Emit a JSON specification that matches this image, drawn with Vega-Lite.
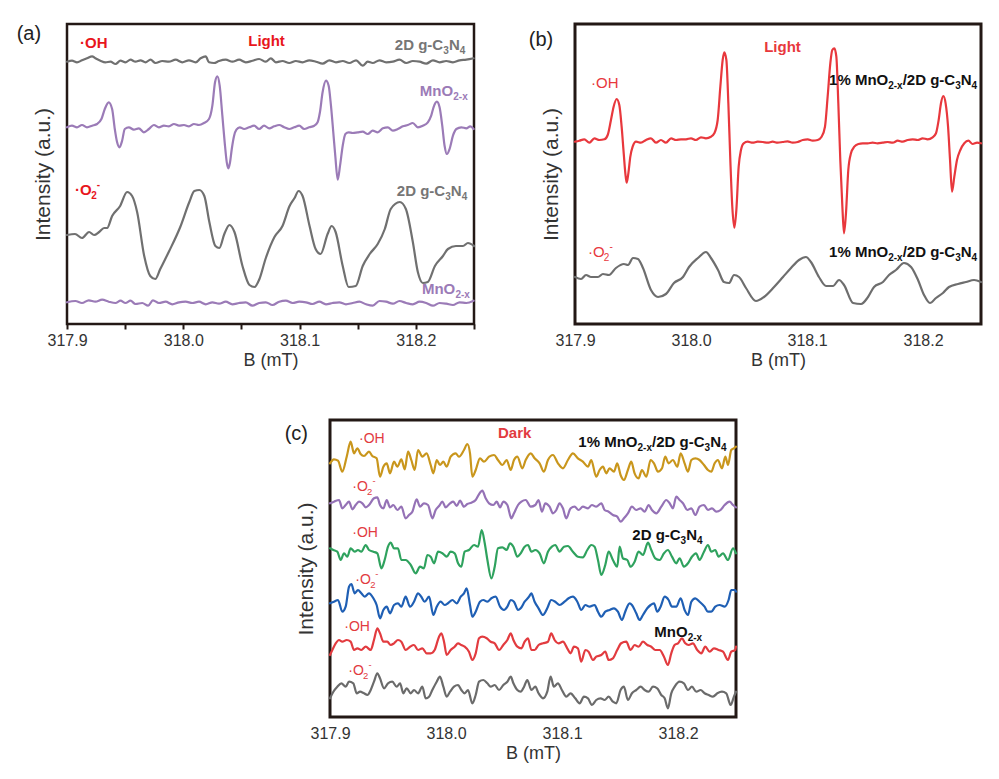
{
"$schema": "https://vega.github.io/schema/vega-lite/v6.json",
"background": "#ffffff",
"padding": {"left": 15, "top": 22, "right": 0, "bottom": 0},
"config": {
 "font": "Liberation Sans",
 "view": {"stroke": "#231815", "strokeWidth": 3},
 "axis": {"grid": false, "domain": false, "labelFont": "Liberation Sans", "titleFont": "Liberation Sans", "labelColor": "#333333", "titleColor": "#333333", "titleFontWeight": "normal", "labelFontSize": 16, "titleFontSize": 18},
 "text": {"font": "Liberation Sans"},
 "line": {"interpolate": "monotone", "strokeWidth": 2, "strokeCap": "round", "strokeJoin": "round"}
},
"spacing": 47,
"vconcat": [
{"spacing": 50, "hconcat": [
{
 "width": 407, "height": 300,
 "view": {"stroke": "#231815", "strokeWidth": 2.5},
 "encoding": {
  "x": {"field": "x", "type": "quantitative", "scale": {"domain": [317.9, 318.25], "nice": false, "zero": false},
   "axis": {"values": [317.9, 317.95, 318.0, 318.05, 318.1, 318.15, 318.2, 318.25], "labelExpr": "round(datum.value*20) % 2 == 0 ? format(datum.value, '.1f') : ''", "tickSize": 5, "tickWidth": 2, "tickColor": "#231815", "labelPadding": 3, "labelFlush": false, "labelOverlap": false, "title": "B (mT)", "titlePadding": 3}},
  "y": {"field": "y", "type": "quantitative", "scale": {"domain": [0, 300], "nice": false, "zero": false},
   "axis": {"title": "Intensity (a.u.)", "labels": false, "ticks": false, "titlePadding": 14, "titleFontSize": 21}}
 },
 "layer": [
  {"data": {"values": [
{"x":317.9,"y":262.3},{"x":317.9043,"y":263.3},{"x":317.9086,"y":261.7},{"x":317.9129,"y":263.7},{"x":317.9172,"y":265.7},{"x":317.9216,"y":267.7},{"x":317.9244,"y":265.7},{"x":317.9287,"y":263.3},{"x":317.933,"y":261.7},{"x":317.9374,"y":262.3},{"x":317.9417,"y":260},{"x":317.946,"y":263.3},{"x":317.9503,"y":261.7},{"x":317.9546,"y":264.3},{"x":317.9589,"y":262.3},{"x":317.9632,"y":263.7},{"x":317.9675,"y":261.7},{"x":317.9718,"y":264.3},{"x":317.9761,"y":261},{"x":317.9819,"y":263},{"x":317.9876,"y":262.3},{"x":317.9934,"y":264.3},{"x":317.9991,"y":261.7},{"x":318.0049,"y":263.7},{"x":318.0106,"y":261.7},{"x":318.0149,"y":265.7},{"x":318.0193,"y":267.7},{"x":318.0221,"y":261.7},{"x":318.0264,"y":261},{"x":318.0307,"y":263},{"x":318.0365,"y":264.3},{"x":318.0422,"y":262.3},{"x":318.048,"y":264.3},{"x":318.0537,"y":261.7},{"x":318.0595,"y":263.3},{"x":318.0652,"y":265},{"x":318.071,"y":262.3},{"x":318.0753,"y":265.7},{"x":318.0796,"y":261.7},{"x":318.0853,"y":263},{"x":318.0911,"y":261},{"x":318.0968,"y":263},{"x":318.1026,"y":261.7},{"x":318.1083,"y":263.7},{"x":318.1141,"y":262.3},{"x":318.1198,"y":260.3},{"x":318.1256,"y":263.7},{"x":318.1313,"y":261.7},{"x":318.1371,"y":263},{"x":318.1428,"y":261},{"x":318.1486,"y":263.7},{"x":318.1543,"y":258.3},{"x":318.1586,"y":262.3},{"x":318.1629,"y":261},{"x":318.1687,"y":263.7},{"x":318.1744,"y":261.7},{"x":318.1802,"y":262.3},{"x":318.1859,"y":264.3},{"x":318.1917,"y":261},{"x":318.1974,"y":263},{"x":318.2032,"y":262.3},{"x":318.2089,"y":260.3},{"x":318.2147,"y":263.7},{"x":318.2204,"y":261.7},{"x":318.2261,"y":263},{"x":318.2319,"y":261.7},{"x":318.2376,"y":263.7},{"x":318.2434,"y":264.3},{"x":318.2497,"y":265.7}
  ]}, "mark": {"type": "line", "color": "#707070", "strokeWidth": 2.2}},
  {"data": {"values": [
{"x":317.9,"y":196.7},{"x":317.9043,"y":198.3},{"x":317.9086,"y":196.7},{"x":317.9129,"y":199},{"x":317.9172,"y":196.7},{"x":317.9216,"y":198.3},{"x":317.9259,"y":200},{"x":317.9296,"y":205},{"x":317.9325,"y":215},{"x":317.9359,"y":221.7},{"x":317.9388,"y":215},{"x":317.9411,"y":195},{"x":317.9431,"y":181.7},{"x":317.9451,"y":176.7},{"x":317.9474,"y":183.3},{"x":317.9497,"y":195},{"x":317.9532,"y":196.7},{"x":317.9575,"y":194.3},{"x":317.9618,"y":195.7},{"x":317.9661,"y":191.7},{"x":317.9704,"y":195},{"x":317.9747,"y":199},{"x":317.979,"y":196.7},{"x":317.9833,"y":198.3},{"x":317.9876,"y":197.7},{"x":317.992,"y":200},{"x":317.9963,"y":198.3},{"x":318.0006,"y":199},{"x":318.0049,"y":197.7},{"x":318.0092,"y":200},{"x":318.0135,"y":199},{"x":318.0178,"y":201},{"x":318.0221,"y":205},{"x":318.025,"y":218.3},{"x":318.0273,"y":241.7},{"x":318.0293,"y":247.7},{"x":318.0313,"y":238.3},{"x":318.0336,"y":208.3},{"x":318.0356,"y":181.7},{"x":318.0374,"y":161.7},{"x":318.0388,"y":155.7},{"x":318.0402,"y":161.7},{"x":318.0417,"y":175},{"x":318.0437,"y":188.3},{"x":318.0457,"y":194.3},{"x":318.0486,"y":196.7},{"x":318.0523,"y":195},{"x":318.0566,"y":196.7},{"x":318.0609,"y":198.3},{"x":318.0652,"y":195},{"x":318.0695,"y":198.3},{"x":318.0739,"y":195.7},{"x":318.0782,"y":197.7},{"x":318.0825,"y":199},{"x":318.0868,"y":196.7},{"x":318.0911,"y":195},{"x":318.0954,"y":196.7},{"x":318.0997,"y":198.3},{"x":318.104,"y":195},{"x":318.1083,"y":196.7},{"x":318.1126,"y":198.3},{"x":318.1155,"y":201.7},{"x":318.1175,"y":211.7},{"x":318.1198,"y":231.7},{"x":318.1227,"y":243.3},{"x":318.125,"y":238.3},{"x":318.127,"y":218.3},{"x":318.129,"y":191.7},{"x":318.1307,"y":168.3},{"x":318.1328,"y":144.3},{"x":318.1348,"y":158.3},{"x":318.1371,"y":178.3},{"x":318.1394,"y":190},{"x":318.1422,"y":191.7},{"x":318.1457,"y":191},{"x":318.15,"y":191.7},{"x":318.1543,"y":192.3},{"x":318.1586,"y":190},{"x":318.1629,"y":193.3},{"x":318.1672,"y":191.7},{"x":318.1716,"y":195.7},{"x":318.1759,"y":196.7},{"x":318.1802,"y":193.3},{"x":318.1845,"y":195},{"x":318.1888,"y":197.7},{"x":318.1931,"y":199},{"x":318.1974,"y":201},{"x":318.2017,"y":196.7},{"x":318.206,"y":198.3},{"x":318.2103,"y":201.7},{"x":318.2132,"y":208.3},{"x":318.2152,"y":216.7},{"x":318.2181,"y":222.3},{"x":318.2204,"y":216.7},{"x":318.2227,"y":198.3},{"x":318.2247,"y":178.3},{"x":318.2267,"y":170},{"x":318.229,"y":175},{"x":318.2319,"y":188.3},{"x":318.2348,"y":195},{"x":318.2391,"y":196.7},{"x":318.2434,"y":195.7},{"x":318.2468,"y":197.7},{"x":318.2497,"y":195}
  ]}, "mark": {"type": "line", "color": "#9b7bb7", "strokeWidth": 2.2}},
  {"data": {"values": [
{"x":317.9,"y":89},{"x":317.9069,"y":90},{"x":317.9129,"y":86},{"x":317.919,"y":92},{"x":317.9233,"y":89},{"x":317.9276,"y":92},{"x":317.9319,"y":96},{"x":317.9345,"y":96},{"x":317.9388,"y":108},{"x":317.9457,"y":118},{"x":317.9517,"y":132},{"x":317.956,"y":128},{"x":317.9603,"y":112},{"x":317.9664,"y":68},{"x":317.9716,"y":48},{"x":317.9759,"y":45},{"x":317.9802,"y":55},{"x":317.9879,"y":73},{"x":317.9974,"y":97},{"x":318.0052,"y":122},{"x":318.0095,"y":133},{"x":318.0138,"y":134},{"x":318.0181,"y":128},{"x":318.0224,"y":102},{"x":318.0276,"y":78},{"x":318.031,"y":76},{"x":318.0353,"y":90},{"x":318.0397,"y":99},{"x":318.044,"y":92},{"x":318.0509,"y":58},{"x":318.0569,"y":39},{"x":318.0612,"y":37},{"x":318.0655,"y":45},{"x":318.0707,"y":65},{"x":318.0784,"y":87},{"x":318.0853,"y":98},{"x":318.0914,"y":118},{"x":318.0957,"y":126},{"x":318.0991,"y":133},{"x":318.1026,"y":128},{"x":318.1086,"y":98},{"x":318.1138,"y":75},{"x":318.1181,"y":70},{"x":318.1241,"y":90},{"x":318.1276,"y":98},{"x":318.131,"y":92},{"x":318.1371,"y":58},{"x":318.1422,"y":37},{"x":318.1483,"y":38},{"x":318.1543,"y":58},{"x":318.1603,"y":70},{"x":318.1672,"y":80},{"x":318.1733,"y":95},{"x":318.1784,"y":115},{"x":318.1862,"y":122},{"x":318.1914,"y":115},{"x":318.1974,"y":82},{"x":318.2017,"y":52},{"x":318.206,"y":41},{"x":318.2103,"y":42},{"x":318.2164,"y":58},{"x":318.2233,"y":68},{"x":318.2276,"y":75},{"x":318.2345,"y":78},{"x":318.2405,"y":78},{"x":318.2448,"y":81},{"x":318.25,"y":78}
  ]}, "mark": {"type": "line", "color": "#707070", "strokeWidth": 2.2}},
  {"data": {"values": [
{"x":317.9,"y":21.7},{"x":317.9072,"y":23},{"x":317.9129,"y":21},{"x":317.9187,"y":23.7},{"x":317.9244,"y":22.3},{"x":317.9302,"y":24.3},{"x":317.9359,"y":22.3},{"x":317.9417,"y":21},{"x":317.946,"y":23.3},{"x":317.9503,"y":21},{"x":317.9546,"y":23.3},{"x":317.9589,"y":20},{"x":317.9647,"y":21},{"x":317.9698,"y":18.3},{"x":317.9739,"y":23.7},{"x":317.979,"y":21},{"x":317.9848,"y":22.3},{"x":317.9905,"y":19.7},{"x":317.9963,"y":21.7},{"x":318.002,"y":22.3},{"x":318.0078,"y":21},{"x":318.0135,"y":22.3},{"x":318.0193,"y":19.7},{"x":318.025,"y":21.7},{"x":318.0307,"y":20.3},{"x":318.0365,"y":22.3},{"x":318.0422,"y":19.7},{"x":318.048,"y":21},{"x":318.0537,"y":21.7},{"x":318.0595,"y":18.3},{"x":318.0652,"y":21},{"x":318.071,"y":21.7},{"x":318.0767,"y":19},{"x":318.0825,"y":22.3},{"x":318.0882,"y":23.3},{"x":318.094,"y":21},{"x":318.0997,"y":22.3},{"x":318.1055,"y":21.7},{"x":318.1112,"y":20},{"x":318.117,"y":22.3},{"x":318.1227,"y":19.7},{"x":318.1284,"y":21},{"x":318.1342,"y":21.7},{"x":318.1399,"y":19.7},{"x":318.1457,"y":21},{"x":318.1514,"y":22.3},{"x":318.1572,"y":19.7},{"x":318.1629,"y":18.3},{"x":318.1687,"y":23},{"x":318.1744,"y":22.3},{"x":318.1802,"y":20.3},{"x":318.1859,"y":23},{"x":318.1917,"y":21},{"x":318.1974,"y":19.7},{"x":318.2032,"y":22.3},{"x":318.2089,"y":21},{"x":318.2147,"y":18.3},{"x":318.2204,"y":21},{"x":318.2261,"y":20.3},{"x":318.2319,"y":19},{"x":318.2376,"y":21.7},{"x":318.2434,"y":21},{"x":318.2497,"y":23.3}
  ]}, "mark": {"type": "line", "color": "#9b7bb7", "strokeWidth": 2.2}},
  {"data": {"values": [{"x": 317.8672, "y": 290, "t": "(a)"}]}, "mark": {"type": "text", "fontSize": 20, "color": "#222222", "align": "center", "baseline": "middle"}, "encoding": {"text": {"field": "t"}}},
  {"data": {"values": [{"x": 317.9112, "y": 275.7, "t": "·OH"}, {"x": 317.9069, "y": 129, "t": "·O"}]}, "mark": {"type": "text", "fontSize": 15, "fontWeight": "bold", "color": "#e8161c", "align": "left", "baseline": "alphabetic"}, "encoding": {"text": {"field": "t"}}},
  {"data": {"values": [{"x": 317.9208, "y": 125, "t": "2"}]}, "mark": {"type": "text", "fontSize": 10, "fontWeight": "bold", "color": "#e8161c", "align": "left", "baseline": "alphabetic"}, "encoding": {"text": {"field": "t"}}},
  {"data": {"values": [{"x": 317.9256, "y": 136, "t": "-"}]}, "mark": {"type": "text", "fontSize": 10, "fontWeight": "bold", "color": "#e8161c", "align": "left", "baseline": "alphabetic"}, "encoding": {"text": {"field": "t"}}},
  {"data": {"values": [{"x": 318.0716, "y": 278.3, "t": "Light"}]}, "mark": {"type": "text", "fontSize": 15, "fontWeight": "bold", "color": "#e8161c", "align": "center", "baseline": "alphabetic"}, "encoding": {"text": {"field": "t"}}},
  {"data": {"values": [{"x": 318.1819, "y": 274.3, "t": "2D g-C"}, {"x": 318.2284, "y": 274.3, "t": "N"}, {"x": 318.1836, "y": 127.7, "t": "2D g-C"}, {"x": 318.2301, "y": 127.7, "t": "N"}]}, "mark": {"type": "text", "fontSize": 15, "fontWeight": "bold", "color": "#767676", "align": "left", "baseline": "alphabetic"}, "encoding": {"text": {"field": "t"}}},
  {"data": {"values": [{"x": 318.2235, "y": 270.3, "t": "3"}, {"x": 318.2377, "y": 270.3, "t": "4"}, {"x": 318.2253, "y": 123.7, "t": "3"}, {"x": 318.2394, "y": 123.7, "t": "4"}]}, "mark": {"type": "text", "fontSize": 10, "fontWeight": "bold", "color": "#767676", "align": "left", "baseline": "alphabetic"}, "encoding": {"text": {"field": "t"}}},
  {"data": {"values": [{"x": 318.2034, "y": 227.7, "t": "MnO"}, {"x": 318.2052, "y": 30, "t": "MnO"}]}, "mark": {"type": "text", "fontSize": 15, "fontWeight": "bold", "color": "#9b7bb7", "align": "left", "baseline": "alphabetic"}, "encoding": {"text": {"field": "t"}}},
  {"data": {"values": [{"x": 318.2322, "y": 223.7, "t": "2-x"}, {"x": 318.234, "y": 26, "t": "2-x"}]}, "mark": {"type": "text", "fontSize": 10, "fontWeight": "bold", "color": "#9b7bb7", "align": "left", "baseline": "alphabetic"}, "encoding": {"text": {"field": "t"}}}
 ]
},
{
 "width": 406, "height": 300,
 "encoding": {
  "x": {"field": "x", "type": "quantitative", "scale": {"domain": [317.9, 318.25], "nice": false, "zero": false},
   "axis": {"values": [317.9, 318.0, 318.1, 318.2], "format": ".1f", "ticks": false, "labelPadding": 8, "labelFlush": false, "labelOverlap": false, "title": "B (mT)", "titlePadding": 3}},
  "y": {"field": "y", "type": "quantitative", "scale": {"domain": [0, 300], "nice": false, "zero": false},
   "axis": {"title": "Intensity (a.u.)", "labels": false, "ticks": false, "titlePadding": 14, "titleFontSize": 21}}
 },
 "layer": [
  {"data": {"values": [
{"x":317.9,"y":182.3},{"x":317.9037,"y":183.3},{"x":317.908,"y":184.7},{"x":317.9124,"y":181.3},{"x":317.9167,"y":185.7},{"x":317.921,"y":184},{"x":317.9253,"y":184.7},{"x":317.9282,"y":189},{"x":317.931,"y":204},{"x":317.9333,"y":217.3},{"x":317.9359,"y":225},{"x":317.9382,"y":219},{"x":317.9402,"y":197.3},{"x":317.942,"y":170.7},{"x":317.9434,"y":150.7},{"x":317.9445,"y":141.3},{"x":317.946,"y":150.7},{"x":317.9477,"y":167.3},{"x":317.9497,"y":177.3},{"x":317.9526,"y":182.3},{"x":317.9569,"y":181.3},{"x":317.9612,"y":184},{"x":317.9655,"y":185.7},{"x":317.9698,"y":181.3},{"x":317.9741,"y":184},{"x":317.9784,"y":181.3},{"x":317.9828,"y":185.7},{"x":317.9871,"y":184},{"x":317.9914,"y":184.7},{"x":317.9957,"y":184.7},{"x":318.0,"y":185.7},{"x":318.0043,"y":184},{"x":318.0086,"y":186.7},{"x":318.0129,"y":185.7},{"x":318.0172,"y":187.3},{"x":318.0201,"y":190.7},{"x":318.023,"y":204},{"x":318.0253,"y":237.3},{"x":318.0273,"y":264},{"x":318.0287,"y":271.7},{"x":318.0305,"y":264},{"x":318.0322,"y":220.7},{"x":318.0339,"y":164},{"x":318.0356,"y":117.3},{"x":318.0374,"y":96.3},{"x":318.0391,"y":114},{"x":318.0411,"y":157.3},{"x":318.0431,"y":174},{"x":318.0454,"y":180.7},{"x":318.0489,"y":182.3},{"x":318.0532,"y":181.3},{"x":318.0575,"y":182.3},{"x":318.0618,"y":182},{"x":318.0661,"y":181.3},{"x":318.0704,"y":182.3},{"x":318.0747,"y":181.3},{"x":318.079,"y":182},{"x":318.0833,"y":182.7},{"x":318.0876,"y":181.3},{"x":318.092,"y":182},{"x":318.0963,"y":184},{"x":318.1006,"y":184.7},{"x":318.1049,"y":183.3},{"x":318.1092,"y":184},{"x":318.1126,"y":187.3},{"x":318.1155,"y":197.3},{"x":318.1178,"y":227.3},{"x":318.1201,"y":260.7},{"x":318.1218,"y":274},{"x":318.1236,"y":275.7},{"x":318.1253,"y":267.3},{"x":318.127,"y":220.7},{"x":318.1287,"y":164},{"x":318.1305,"y":117.3},{"x":318.1319,"y":90.7},{"x":318.1336,"y":110.7},{"x":318.1356,"y":154},{"x":318.1379,"y":170.7},{"x":318.1408,"y":177.3},{"x":318.1443,"y":180},{"x":318.148,"y":180.7},{"x":318.1523,"y":180.7},{"x":318.1566,"y":181.3},{"x":318.1609,"y":180.7},{"x":318.1652,"y":181.3},{"x":318.1695,"y":182},{"x":318.1739,"y":181.3},{"x":318.1782,"y":183.3},{"x":318.1825,"y":182.3},{"x":318.1868,"y":184},{"x":318.1911,"y":184.7},{"x":318.1954,"y":184},{"x":318.1997,"y":185.7},{"x":318.204,"y":184.7},{"x":318.2083,"y":186.7},{"x":318.2112,"y":190.7},{"x":318.2135,"y":204},{"x":318.2155,"y":220.7},{"x":318.2175,"y":228},{"x":318.2195,"y":220.7},{"x":318.2216,"y":197.3},{"x":318.2233,"y":164},{"x":318.225,"y":132.3},{"x":318.227,"y":147.3},{"x":318.2293,"y":164},{"x":318.2322,"y":174},{"x":318.2356,"y":180.7},{"x":318.2391,"y":183.3},{"x":318.2428,"y":180},{"x":318.2466,"y":181.3},{"x":318.25,"y":180.7}
  ]}, "mark": {"type": "line", "color": "#e8383d", "strokeWidth": 2.2}},
  {"data": {"values": [
{"x":317.9,"y":47},{"x":317.9052,"y":45},{"x":317.9095,"y":49},{"x":317.9138,"y":47},{"x":317.9198,"y":47},{"x":317.9241,"y":50},{"x":317.9293,"y":49},{"x":317.9353,"y":56},{"x":317.9422,"y":60},{"x":317.9457,"y":59},{"x":317.95,"y":66},{"x":317.9543,"y":65},{"x":317.9586,"y":56},{"x":317.9655,"y":34},{"x":317.9716,"y":27},{"x":317.9784,"y":30},{"x":317.9853,"y":41},{"x":317.9931,"y":47},{"x":317.9983,"y":57},{"x":318.006,"y":66},{"x":318.0129,"y":72},{"x":318.0172,"y":66},{"x":318.0233,"y":54},{"x":318.0284,"y":42},{"x":318.0328,"y":41},{"x":318.0371,"y":49},{"x":318.0414,"y":47},{"x":318.0474,"y":36},{"x":318.056,"y":23},{"x":318.0629,"y":27},{"x":318.0716,"y":37},{"x":318.0793,"y":47},{"x":318.0862,"y":56},{"x":318.0931,"y":64},{"x":318.0991,"y":67},{"x":318.1034,"y":62},{"x":318.1103,"y":47},{"x":318.1164,"y":38},{"x":318.1224,"y":38},{"x":318.1276,"y":44},{"x":318.1319,"y":39},{"x":318.1397,"y":21},{"x":318.1466,"y":20},{"x":318.1526,"y":27},{"x":318.1578,"y":37},{"x":318.1655,"y":42},{"x":318.1707,"y":49},{"x":318.1767,"y":54},{"x":318.1836,"y":61},{"x":318.1897,"y":57},{"x":318.1957,"y":44},{"x":318.2009,"y":29},{"x":318.206,"y":21},{"x":318.2112,"y":26},{"x":318.2172,"y":31},{"x":318.2224,"y":37},{"x":318.2302,"y":40},{"x":318.2371,"y":42},{"x":318.244,"y":44},{"x":318.25,"y":42}
  ]}, "mark": {"type": "line", "color": "#6e6e6e", "strokeWidth": 2.2}},
  {"data": {"values": [{"x": 317.8707, "y": 284, "t": "(b)"}]}, "mark": {"type": "text", "fontSize": 20, "color": "#222222", "align": "center", "baseline": "middle"}, "encoding": {"text": {"field": "t"}}},
  {"data": {"values": [{"x": 318.0789, "y": 272.3, "t": "Light"}]}, "mark": {"type": "text", "fontSize": 15, "fontWeight": "bold", "color": "#e8383d", "align": "center", "baseline": "alphabetic"}, "encoding": {"text": {"field": "t"}}},
  {"data": {"values": [{"x": 317.9138, "y": 235.7, "t": "·OH"}, {"x": 317.9112, "y": 67.3, "t": "·O"}]}, "mark": {"type": "text", "fontSize": 15, "color": "#e8383d", "align": "left", "baseline": "alphabetic"}, "encoding": {"text": {"field": "t"}}},
  {"data": {"values": [{"x": 317.9248, "y": 63.3, "t": "2"}]}, "mark": {"type": "text", "fontSize": 10, "color": "#e8383d", "align": "left", "baseline": "alphabetic"}, "encoding": {"text": {"field": "t"}}},
  {"data": {"values": [{"x": 317.9297, "y": 74.3, "t": "-"}]}, "mark": {"type": "text", "fontSize": 10, "color": "#e8383d", "align": "left", "baseline": "alphabetic"}, "encoding": {"text": {"field": "t"}}},
  {"data": {"values": [{"x": 318.119, "y": 239, "t": "1% MnO"}, {"x": 318.1825, "y": 239, "t": "/2D g-C"}, {"x": 318.2326, "y": 239, "t": "N"}, {"x": 318.119, "y": 67.3, "t": "1% MnO"}, {"x": 318.1825, "y": 67.3, "t": "/2D g-C"}, {"x": 318.2326, "y": 67.3, "t": "N"}]}, "mark": {"type": "text", "fontSize": 15, "fontWeight": "bold", "color": "#111111", "align": "left", "baseline": "alphabetic"}, "encoding": {"text": {"field": "t"}}},
  {"data": {"values": [{"x": 318.17, "y": 235, "t": "2-x"}, {"x": 318.2278, "y": 235, "t": "3"}, {"x": 318.2419, "y": 235, "t": "4"}, {"x": 318.17, "y": 63.3, "t": "2-x"}, {"x": 318.2278, "y": 63.3, "t": "3"}, {"x": 318.2419, "y": 63.3, "t": "4"}]}, "mark": {"type": "text", "fontSize": 10, "fontWeight": "bold", "color": "#111111", "align": "left", "baseline": "alphabetic"}, "encoding": {"text": {"field": "t"}}}
 ]
}
]},
{"spacing": 0, "hconcat": [
{"width": 216, "height": 10, "view": {"stroke": null}, "data": {"values": []}, "mark": "point", "encoding": {}},
{
 "width": 406, "height": 297,
 "encoding": {
  "x": {"field": "x", "type": "quantitative", "scale": {"domain": [317.9, 318.25], "nice": false, "zero": false},
   "axis": {"values": [317.9, 318.0, 318.1, 318.2], "format": ".1f", "ticks": false, "labelPadding": 8, "labelFlush": false, "labelOverlap": false, "title": "B (mT)", "titlePadding": 3}},
  "y": {"field": "y", "type": "quantitative", "scale": {"domain": [0, 297], "nice": false, "zero": false},
   "axis": {"title": "Intensity (a.u.)", "labels": false, "ticks": false, "titlePadding": 14, "titleFontSize": 21}}
 },
 "layer": [
  {"data": {"values": [
{"x":317.9,"y":253.7},{"x":317.9034,"y":257.7},{"x":317.9069,"y":256.3},{"x":317.9106,"y":245.3},{"x":317.9144,"y":260.3},{"x":317.9178,"y":275.3},{"x":317.9207,"y":263.7},{"x":317.9236,"y":268.7},{"x":317.9264,"y":263},{"x":317.9293,"y":261},{"x":317.9336,"y":265.3},{"x":317.9365,"y":261},{"x":317.9402,"y":258.7},{"x":317.9431,"y":240.3},{"x":317.946,"y":250.3},{"x":317.9489,"y":253.7},{"x":317.9517,"y":243.7},{"x":317.9552,"y":255.3},{"x":317.9581,"y":250.3},{"x":317.9615,"y":257.7},{"x":317.9644,"y":247.7},{"x":317.9673,"y":265.3},{"x":317.9701,"y":257},{"x":317.973,"y":247},{"x":317.9759,"y":267},{"x":317.9796,"y":260.3},{"x":317.9833,"y":263.7},{"x":317.9868,"y":252},{"x":317.9891,"y":243.7},{"x":317.992,"y":257},{"x":317.9948,"y":252},{"x":317.9977,"y":255.3},{"x":318.0006,"y":250.3},{"x":318.004,"y":260.3},{"x":318.0083,"y":263.7},{"x":318.0112,"y":260.3},{"x":318.0155,"y":267},{"x":318.0184,"y":273},{"x":318.0207,"y":263.7},{"x":318.0227,"y":240.3},{"x":318.0256,"y":247},{"x":318.0293,"y":258.7},{"x":318.0327,"y":255.3},{"x":318.0371,"y":260.3},{"x":318.0414,"y":262},{"x":318.0448,"y":257},{"x":318.0486,"y":252},{"x":318.0523,"y":257},{"x":318.0558,"y":247},{"x":318.0586,"y":257},{"x":318.0615,"y":260.3},{"x":318.0658,"y":248.7},{"x":318.0687,"y":257},{"x":318.073,"y":263.7},{"x":318.0764,"y":258.7},{"x":318.0807,"y":253.7},{"x":318.0844,"y":245.3},{"x":318.0879,"y":257},{"x":318.0922,"y":262},{"x":318.0965,"y":253.7},{"x":318.1008,"y":248.7},{"x":318.1051,"y":257},{"x":318.1094,"y":263.7},{"x":318.1137,"y":258.7},{"x":318.118,"y":255.3},{"x":318.1224,"y":250.3},{"x":318.1252,"y":257},{"x":318.1295,"y":240.3},{"x":318.1324,"y":247},{"x":318.1353,"y":250.3},{"x":318.1382,"y":243.7},{"x":318.141,"y":248.7},{"x":318.1448,"y":245.3},{"x":318.1476,"y":253.7},{"x":318.1505,"y":242},{"x":318.1534,"y":237},{"x":318.1568,"y":247},{"x":318.1597,"y":255.3},{"x":318.1626,"y":243.7},{"x":318.166,"y":238.7},{"x":318.1689,"y":247},{"x":318.1727,"y":240.3},{"x":318.1764,"y":257},{"x":318.1793,"y":253.7},{"x":318.1827,"y":245.3},{"x":318.1862,"y":248.7},{"x":318.189,"y":260.3},{"x":318.1919,"y":253.7},{"x":318.1956,"y":257},{"x":318.1994,"y":250.3},{"x":318.2023,"y":263.7},{"x":318.2057,"y":253.7},{"x":318.2086,"y":245.3},{"x":318.2115,"y":257},{"x":318.2149,"y":258.7},{"x":318.2186,"y":257},{"x":318.2224,"y":252},{"x":318.2258,"y":247},{"x":318.2287,"y":245.3},{"x":318.2316,"y":253.7},{"x":318.2344,"y":257},{"x":318.2379,"y":248.7},{"x":318.2408,"y":260.3},{"x":318.2431,"y":252},{"x":318.2459,"y":267},{"x":318.2482,"y":268.7},{"x":318.25,"y":270.3}
  ]}, "mark": {"type": "line", "color": "#c9961c", "strokeWidth": 2.2}},
  {"data": {"values": [
{"x":317.9,"y":213.7},{"x":317.9034,"y":215.3},{"x":317.9078,"y":217},{"x":317.9106,"y":208.7},{"x":317.9135,"y":212},{"x":317.9164,"y":215.3},{"x":317.9193,"y":207.7},{"x":317.9221,"y":212},{"x":317.925,"y":215.3},{"x":317.9279,"y":213.7},{"x":317.9308,"y":209.7},{"x":317.9336,"y":212},{"x":317.9379,"y":218.7},{"x":317.9408,"y":219.7},{"x":317.9431,"y":212},{"x":317.946,"y":208.7},{"x":317.9489,"y":217},{"x":317.9517,"y":209.7},{"x":317.9546,"y":212},{"x":317.9581,"y":207},{"x":317.9615,"y":210.3},{"x":317.9652,"y":198.7},{"x":317.9681,"y":202},{"x":317.971,"y":205.3},{"x":317.9747,"y":217.7},{"x":317.9776,"y":210.3},{"x":317.981,"y":213.7},{"x":317.9845,"y":212},{"x":317.9882,"y":198.7},{"x":317.9911,"y":207},{"x":317.994,"y":211},{"x":317.9969,"y":215.3},{"x":317.9997,"y":209.7},{"x":318.0035,"y":213.7},{"x":318.0063,"y":215.3},{"x":318.0092,"y":211},{"x":318.0121,"y":216.3},{"x":318.0155,"y":210.3},{"x":318.0184,"y":213},{"x":318.0219,"y":214.3},{"x":318.0256,"y":217},{"x":318.0293,"y":224.3},{"x":318.0313,"y":226.3},{"x":318.0342,"y":218.7},{"x":318.0371,"y":213.7},{"x":318.0408,"y":212},{"x":318.0437,"y":215.3},{"x":318.0466,"y":209.7},{"x":318.0494,"y":215.3},{"x":318.0529,"y":212},{"x":318.0563,"y":198.7},{"x":318.0586,"y":203.7},{"x":318.0621,"y":212},{"x":318.065,"y":215.3},{"x":318.0687,"y":217},{"x":318.073,"y":210.3},{"x":318.077,"y":212},{"x":318.0798,"y":217},{"x":318.0827,"y":205.3},{"x":318.0856,"y":213.7},{"x":318.0893,"y":210.3},{"x":318.0922,"y":203.7},{"x":318.0951,"y":207},{"x":318.0979,"y":213.7},{"x":318.1008,"y":208.7},{"x":318.1037,"y":198.7},{"x":318.1074,"y":208.7},{"x":318.1109,"y":210.3},{"x":318.1143,"y":207},{"x":318.118,"y":210.3},{"x":318.1224,"y":208.7},{"x":318.1258,"y":212},{"x":318.1295,"y":210.3},{"x":318.1339,"y":213.7},{"x":318.1367,"y":207},{"x":318.1402,"y":205.3},{"x":318.1439,"y":202},{"x":318.1476,"y":200.3},{"x":318.1505,"y":195.3},{"x":318.1534,"y":198.7},{"x":318.1568,"y":203.7},{"x":318.1603,"y":210.3},{"x":318.164,"y":207},{"x":318.1678,"y":208.7},{"x":318.1712,"y":205.3},{"x":318.1747,"y":212},{"x":318.1775,"y":207},{"x":318.1813,"y":203.7},{"x":318.1856,"y":210.3},{"x":318.1899,"y":217},{"x":318.1928,"y":213.7},{"x":318.1956,"y":208.7},{"x":318.1985,"y":220.3},{"x":318.2014,"y":217},{"x":318.2043,"y":213.7},{"x":318.208,"y":207},{"x":318.2115,"y":208.7},{"x":318.2149,"y":202},{"x":318.2186,"y":210.3},{"x":318.2224,"y":212},{"x":318.2258,"y":207},{"x":318.2293,"y":208.7},{"x":318.233,"y":205.3},{"x":318.2367,"y":207},{"x":318.2402,"y":212},{"x":318.2445,"y":215.3},{"x":318.2474,"y":212},{"x":318.25,"y":209.7}
  ]}, "mark": {"type": "line", "color": "#9572b6", "strokeWidth": 2.2}},
  {"data": {"values": [
{"x":317.9,"y":168.7},{"x":317.9029,"y":167},{"x":317.9063,"y":165.3},{"x":317.9092,"y":157},{"x":317.9121,"y":163.7},{"x":317.9149,"y":160.3},{"x":317.9178,"y":168.7},{"x":317.9213,"y":165.3},{"x":317.9241,"y":167},{"x":317.927,"y":165.3},{"x":317.9308,"y":172},{"x":317.9336,"y":167},{"x":317.9374,"y":165.3},{"x":317.9408,"y":163.7},{"x":317.9443,"y":148.7},{"x":317.9471,"y":157},{"x":317.95,"y":170.3},{"x":317.9523,"y":174.3},{"x":317.9552,"y":168.7},{"x":317.9586,"y":168.7},{"x":317.9615,"y":157},{"x":317.9652,"y":157},{"x":317.9696,"y":152},{"x":317.9739,"y":143.7},{"x":317.9776,"y":150.3},{"x":317.981,"y":148.7},{"x":317.9839,"y":162},{"x":317.9868,"y":160.3},{"x":317.9897,"y":153.7},{"x":317.9931,"y":165.3},{"x":317.9969,"y":163.7},{"x":318.0006,"y":160.3},{"x":318.004,"y":165.3},{"x":318.0075,"y":163.7},{"x":318.0104,"y":153.7},{"x":318.0132,"y":150.3},{"x":318.0161,"y":165.3},{"x":318.0198,"y":167},{"x":318.0242,"y":172},{"x":318.0276,"y":170.3},{"x":318.0308,"y":187},{"x":318.0334,"y":173.7},{"x":318.0357,"y":157},{"x":318.0391,"y":138.7},{"x":318.042,"y":150.3},{"x":318.0448,"y":168.7},{"x":318.0486,"y":169.7},{"x":318.0523,"y":167},{"x":318.0552,"y":173.7},{"x":318.0581,"y":170.3},{"x":318.0615,"y":160.3},{"x":318.0644,"y":163.7},{"x":318.0678,"y":170.3},{"x":318.0707,"y":172},{"x":318.0736,"y":165.3},{"x":318.077,"y":167},{"x":318.0807,"y":163.7},{"x":318.0844,"y":153.7},{"x":318.0879,"y":165.3},{"x":318.0913,"y":170.3},{"x":318.0942,"y":172},{"x":318.0979,"y":165.3},{"x":318.1017,"y":170.3},{"x":318.1051,"y":171},{"x":318.1094,"y":165.3},{"x":318.1137,"y":160.3},{"x":318.118,"y":159.7},{"x":318.1218,"y":167},{"x":318.1252,"y":172},{"x":318.1281,"y":170.3},{"x":318.131,"y":157},{"x":318.1339,"y":142},{"x":318.1373,"y":152},{"x":318.1402,"y":165.3},{"x":318.1439,"y":157},{"x":318.1476,"y":150.3},{"x":318.1497,"y":170.3},{"x":318.1525,"y":158.7},{"x":318.1563,"y":157},{"x":318.1591,"y":150.3},{"x":318.1626,"y":155.3},{"x":318.166,"y":165.3},{"x":318.1698,"y":162},{"x":318.1741,"y":174.3},{"x":318.177,"y":167},{"x":318.1804,"y":158.7},{"x":318.1842,"y":157},{"x":318.1879,"y":163.7},{"x":318.1913,"y":167},{"x":318.1948,"y":160.3},{"x":318.1985,"y":153.7},{"x":318.2014,"y":158.7},{"x":318.2051,"y":150.3},{"x":318.2086,"y":153.7},{"x":318.212,"y":160.3},{"x":318.2155,"y":163.7},{"x":318.2186,"y":157},{"x":318.2224,"y":165.3},{"x":318.2258,"y":172},{"x":318.2287,"y":165.3},{"x":318.2321,"y":167},{"x":318.235,"y":160.3},{"x":318.2388,"y":163.7},{"x":318.2431,"y":157},{"x":318.2474,"y":168.7},{"x":318.25,"y":163.7}
  ]}, "mark": {"type": "line", "color": "#2fa25e", "strokeWidth": 2.2}},
  {"data": {"values": [
{"x":317.9,"y":113.7},{"x":317.9034,"y":115.3},{"x":317.9069,"y":117},{"x":317.9106,"y":105.3},{"x":317.9135,"y":110.3},{"x":317.9164,"y":130.3},{"x":317.9184,"y":133},{"x":317.9213,"y":123.7},{"x":317.9241,"y":127},{"x":317.927,"y":123.7},{"x":317.9299,"y":120.3},{"x":317.9336,"y":123.7},{"x":317.9374,"y":118.7},{"x":317.9402,"y":112},{"x":317.9431,"y":98.7},{"x":317.946,"y":107},{"x":317.9489,"y":110.3},{"x":317.9517,"y":103.7},{"x":317.9552,"y":112},{"x":317.9586,"y":113.7},{"x":317.9615,"y":110.3},{"x":317.9652,"y":120.3},{"x":317.969,"y":110.3},{"x":317.9724,"y":115.3},{"x":317.9759,"y":123.7},{"x":317.9787,"y":120.3},{"x":317.9816,"y":115.3},{"x":317.9854,"y":120.3},{"x":317.9891,"y":102},{"x":317.992,"y":110.3},{"x":317.9954,"y":115.3},{"x":317.9989,"y":112},{"x":318.0017,"y":113.7},{"x":318.0055,"y":117},{"x":318.0092,"y":113.7},{"x":318.0127,"y":120.3},{"x":318.0155,"y":123.7},{"x":318.0178,"y":128.7},{"x":318.0207,"y":112},{"x":318.0227,"y":100.3},{"x":318.0256,"y":105.3},{"x":318.0293,"y":115.3},{"x":318.0322,"y":117},{"x":318.0357,"y":115.3},{"x":318.0391,"y":118.7},{"x":318.0428,"y":120.3},{"x":318.0466,"y":110.3},{"x":318.05,"y":107},{"x":318.0529,"y":110.3},{"x":318.0558,"y":117},{"x":318.0586,"y":115.3},{"x":318.0621,"y":107},{"x":318.0644,"y":108.7},{"x":318.0678,"y":115.3},{"x":318.0716,"y":120.3},{"x":318.0735,"y":123.7},{"x":318.0764,"y":115.3},{"x":318.0798,"y":108.7},{"x":318.0836,"y":102},{"x":318.0873,"y":108.7},{"x":318.0907,"y":117},{"x":318.0942,"y":115.3},{"x":318.0979,"y":112},{"x":318.1022,"y":115.3},{"x":318.1057,"y":118.7},{"x":318.1094,"y":120.3},{"x":318.1132,"y":115.3},{"x":318.1166,"y":107},{"x":318.1201,"y":112},{"x":318.1238,"y":110.3},{"x":318.1281,"y":112},{"x":318.131,"y":105.3},{"x":318.1339,"y":100.3},{"x":318.1373,"y":105.3},{"x":318.141,"y":107},{"x":318.1448,"y":108.7},{"x":318.1482,"y":105.3},{"x":318.1517,"y":97},{"x":318.1545,"y":105.3},{"x":318.1583,"y":113.7},{"x":318.1603,"y":112},{"x":318.164,"y":103.7},{"x":318.1669,"y":97},{"x":318.1698,"y":102},{"x":318.1735,"y":108.7},{"x":318.1764,"y":112},{"x":318.1793,"y":113.7},{"x":318.1821,"y":105.3},{"x":318.185,"y":110.3},{"x":318.1885,"y":120.3},{"x":318.1919,"y":117},{"x":318.1948,"y":110.3},{"x":318.1985,"y":110.3},{"x":318.2023,"y":118.7},{"x":318.2057,"y":107},{"x":318.2086,"y":102},{"x":318.2115,"y":115.3},{"x":318.2149,"y":118.7},{"x":318.2186,"y":115.3},{"x":318.2229,"y":110.3},{"x":318.2258,"y":105.3},{"x":318.2287,"y":105.3},{"x":318.2321,"y":110.3},{"x":318.2359,"y":112},{"x":318.2402,"y":110.3},{"x":318.2436,"y":117},{"x":318.2459,"y":127},{"x":318.2494,"y":127},{"x":318.25,"y":125.3}
  ]}, "mark": {"type": "line", "color": "#1f5fb4", "strokeWidth": 2.2}},
  {"data": {"values": [
{"x":317.9,"y":62},{"x":317.902,"y":67},{"x":317.9049,"y":73.7},{"x":317.9078,"y":77},{"x":317.9106,"y":75.3},{"x":317.9144,"y":77},{"x":317.9178,"y":75.3},{"x":317.9207,"y":67},{"x":317.9236,"y":68.7},{"x":317.927,"y":67},{"x":317.9308,"y":70.3},{"x":317.9351,"y":67},{"x":317.9379,"y":77},{"x":317.9408,"y":88.7},{"x":317.9431,"y":83.7},{"x":317.946,"y":75.3},{"x":317.9494,"y":75.3},{"x":317.9523,"y":72},{"x":317.9552,"y":73.7},{"x":317.9586,"y":77},{"x":317.9615,"y":75.3},{"x":317.9652,"y":67},{"x":317.969,"y":70.3},{"x":317.9724,"y":72},{"x":317.9759,"y":67},{"x":317.9796,"y":68.7},{"x":317.9833,"y":63.7},{"x":317.9868,"y":63.7},{"x":317.9902,"y":67},{"x":317.994,"y":80.3},{"x":317.996,"y":83.7},{"x":317.9983,"y":75.3},{"x":318.0006,"y":62},{"x":318.004,"y":67},{"x":318.0075,"y":70.3},{"x":318.0104,"y":73.7},{"x":318.0132,"y":72},{"x":318.0161,"y":70.3},{"x":318.0198,"y":65.3},{"x":318.0227,"y":57},{"x":318.0256,"y":63.7},{"x":318.0285,"y":78.7},{"x":318.0313,"y":80.3},{"x":318.0351,"y":78.7},{"x":318.0385,"y":75.3},{"x":318.042,"y":73.7},{"x":318.0457,"y":67},{"x":318.0494,"y":72},{"x":318.0529,"y":77},{"x":318.0558,"y":83.7},{"x":318.0581,"y":77},{"x":318.0615,"y":70.3},{"x":318.065,"y":68.7},{"x":318.0678,"y":75.3},{"x":318.0707,"y":78.7},{"x":318.0736,"y":67},{"x":318.0764,"y":67},{"x":318.0798,"y":72},{"x":318.0836,"y":73.7},{"x":318.0879,"y":75.3},{"x":318.0907,"y":83.7},{"x":318.0936,"y":77},{"x":318.0971,"y":73.7},{"x":318.1008,"y":75.3},{"x":318.1045,"y":68.7},{"x":318.1074,"y":63.7},{"x":318.1103,"y":70.3},{"x":318.1137,"y":68.7},{"x":318.1166,"y":55.3},{"x":318.1201,"y":67},{"x":318.1229,"y":65.3},{"x":318.1267,"y":57},{"x":318.1295,"y":60.3},{"x":318.1339,"y":62},{"x":318.1373,"y":65.3},{"x":318.1402,"y":57},{"x":318.1439,"y":58.7},{"x":318.1476,"y":67},{"x":318.151,"y":73.7},{"x":318.1554,"y":75.3},{"x":318.1591,"y":67},{"x":318.1626,"y":72},{"x":318.166,"y":70.3},{"x":318.1698,"y":75.3},{"x":318.1735,"y":72},{"x":318.177,"y":70.3},{"x":318.1804,"y":67},{"x":318.1842,"y":67},{"x":318.1879,"y":60.3},{"x":318.1913,"y":52},{"x":318.1942,"y":63.7},{"x":318.1971,"y":72},{"x":318.2,"y":73.7},{"x":318.2034,"y":78.7},{"x":318.2063,"y":73.7},{"x":318.2092,"y":72},{"x":318.2129,"y":73.7},{"x":318.2166,"y":67},{"x":318.2201,"y":63.7},{"x":318.2235,"y":70.3},{"x":318.2273,"y":65.3},{"x":318.231,"y":68.7},{"x":318.235,"y":67},{"x":318.2388,"y":65.3},{"x":318.2431,"y":57},{"x":318.2459,"y":65.3},{"x":318.2494,"y":67},{"x":318.25,"y":70.3}
  ]}, "mark": {"type": "line", "color": "#e23b3f", "strokeWidth": 2.2}},
  {"data": {"values": [
{"x":317.9,"y":18.7},{"x":317.9029,"y":25.3},{"x":317.9063,"y":30.3},{"x":317.9098,"y":33.7},{"x":317.9135,"y":30.3},{"x":317.9164,"y":35.3},{"x":317.9201,"y":33.7},{"x":317.923,"y":23.7},{"x":317.9259,"y":25.3},{"x":317.9293,"y":23.7},{"x":317.9322,"y":22},{"x":317.9351,"y":27},{"x":317.9379,"y":35.3},{"x":317.9408,"y":43.7},{"x":317.9431,"y":38.7},{"x":317.9466,"y":28.7},{"x":317.95,"y":33.7},{"x":317.9537,"y":35.3},{"x":317.9575,"y":30.3},{"x":317.9604,"y":33.7},{"x":317.9632,"y":23.7},{"x":317.9661,"y":28.7},{"x":317.9696,"y":23.7},{"x":317.9724,"y":27},{"x":317.9759,"y":23.7},{"x":317.9796,"y":30.3},{"x":317.9825,"y":18.7},{"x":317.9854,"y":20.3},{"x":317.9882,"y":27},{"x":317.992,"y":35.3},{"x":317.9948,"y":40.3},{"x":317.9977,"y":30.3},{"x":318.0006,"y":20.3},{"x":318.0035,"y":25.3},{"x":318.0069,"y":30.3},{"x":318.0104,"y":32},{"x":318.0132,"y":27},{"x":318.0161,"y":23.7},{"x":318.019,"y":27},{"x":318.0227,"y":13.7},{"x":318.0256,"y":22},{"x":318.0285,"y":35.3},{"x":318.0322,"y":37},{"x":318.0357,"y":33.7},{"x":318.0385,"y":30.3},{"x":318.042,"y":32},{"x":318.0457,"y":27},{"x":318.0494,"y":32},{"x":318.0529,"y":35.3},{"x":318.0558,"y":40.3},{"x":318.0581,"y":33.7},{"x":318.0615,"y":27},{"x":318.0644,"y":25.3},{"x":318.0673,"y":30.3},{"x":318.0701,"y":37},{"x":318.0736,"y":27},{"x":318.077,"y":30.3},{"x":318.0798,"y":23.7},{"x":318.0836,"y":18.7},{"x":318.0873,"y":25.3},{"x":318.0902,"y":40.3},{"x":318.093,"y":30.3},{"x":318.0965,"y":33.7},{"x":318.0999,"y":27},{"x":318.1037,"y":20.3},{"x":318.1074,"y":23.7},{"x":318.1114,"y":18.7},{"x":318.1152,"y":13.7},{"x":318.1189,"y":20.3},{"x":318.1224,"y":18.7},{"x":318.1258,"y":12},{"x":318.1295,"y":17},{"x":318.1333,"y":18.7},{"x":318.1367,"y":17},{"x":318.1402,"y":20.3},{"x":318.1439,"y":15.3},{"x":318.1468,"y":13.7},{"x":318.1505,"y":27},{"x":318.1534,"y":30.3},{"x":318.1568,"y":17},{"x":318.1603,"y":23.7},{"x":318.164,"y":27},{"x":318.1678,"y":30.3},{"x":318.1712,"y":27},{"x":318.1747,"y":25.3},{"x":318.1784,"y":30.3},{"x":318.1821,"y":28.7},{"x":318.1856,"y":22},{"x":318.1885,"y":18.7},{"x":318.1913,"y":8.7},{"x":318.1942,"y":23.7},{"x":318.1971,"y":30.3},{"x":318.2014,"y":35.3},{"x":318.2051,"y":33.7},{"x":318.2086,"y":27},{"x":318.212,"y":30.3},{"x":318.2158,"y":25.3},{"x":318.2195,"y":27},{"x":318.2229,"y":23.7},{"x":318.2264,"y":22},{"x":318.2301,"y":20.3},{"x":318.2339,"y":23.7},{"x":318.2379,"y":25.3},{"x":318.2416,"y":23.7},{"x":318.2454,"y":12},{"x":318.2482,"y":20.3},{"x":318.25,"y":25.3}
  ]}, "mark": {"type": "line", "color": "#6b6b6b", "strokeWidth": 2.2}},
  {"data": {"values": [{"x": 317.871, "y": 283, "t": "(c)"}]}, "mark": {"type": "text", "fontSize": 20, "color": "#222222", "align": "center", "baseline": "middle"}, "encoding": {"text": {"field": "t"}}},
  {"data": {"values": [{"x": 317.925, "y": 274.3, "t": "·OH"}, {"x": 317.9192, "y": 226.3, "t": "·O"}, {"x": 317.9192, "y": 179.7, "t": "·OH"}, {"x": 317.9218, "y": 133, "t": "·O"}, {"x": 317.9123, "y": 86.3, "t": "·OH"}, {"x": 317.9158, "y": 42, "t": "·O"}]}, "mark": {"type": "text", "fontSize": 14, "color": "#e23b3f", "align": "left", "baseline": "alphabetic"}, "encoding": {"text": {"field": "t"}}},
  {"data": {"values": [{"x": 317.932, "y": 222.3, "t": "2"}, {"x": 317.9346, "y": 129, "t": "2"}, {"x": 317.9285, "y": 38, "t": "2"}]}, "mark": {"type": "text", "fontSize": 9.5, "color": "#e23b3f", "align": "left", "baseline": "alphabetic"}, "encoding": {"text": {"field": "t"}}},
  {"data": {"values": [{"x": 317.9366, "y": 233.3, "t": "-"}, {"x": 317.9391, "y": 140, "t": "-"}, {"x": 317.9331, "y": 49, "t": "-"}]}, "mark": {"type": "text", "fontSize": 9.5, "color": "#e23b3f", "align": "left", "baseline": "alphabetic"}, "encoding": {"text": {"field": "t"}}},
  {"data": {"values": [{"x": 318.0448, "y": 278.7, "t": "Dark"}]}, "mark": {"type": "text", "fontSize": 15, "fontWeight": "bold", "color": "#e23b3f", "align": "left", "baseline": "alphabetic"}, "encoding": {"text": {"field": "t"}}},
  {"data": {"values": [{"x": 318.1141, "y": 270.3, "t": "1% MnO"}, {"x": 318.1776, "y": 270.3, "t": "/2D g-C"}, {"x": 318.2277, "y": 270.3, "t": "N"}, {"x": 318.1606, "y": 177, "t": "2D g-C"}, {"x": 318.2071, "y": 177, "t": "N"}, {"x": 318.1796, "y": 80.3, "t": "MnO"}]}, "mark": {"type": "text", "fontSize": 15, "fontWeight": "bold", "color": "#111111", "align": "left", "baseline": "alphabetic"}, "encoding": {"text": {"field": "t"}}},
  {"data": {"values": [{"x": 318.1651, "y": 266.3, "t": "2-x"}, {"x": 318.2228, "y": 266.3, "t": "3"}, {"x": 318.237, "y": 266.3, "t": "4"}, {"x": 318.2022, "y": 173, "t": "3"}, {"x": 318.2164, "y": 173, "t": "4"}, {"x": 318.2083, "y": 76.3, "t": "2-x"}]}, "mark": {"type": "text", "fontSize": 10, "fontWeight": "bold", "color": "#111111", "align": "left", "baseline": "alphabetic"}, "encoding": {"text": {"field": "t"}}}
 ]
}
]}
]
}
